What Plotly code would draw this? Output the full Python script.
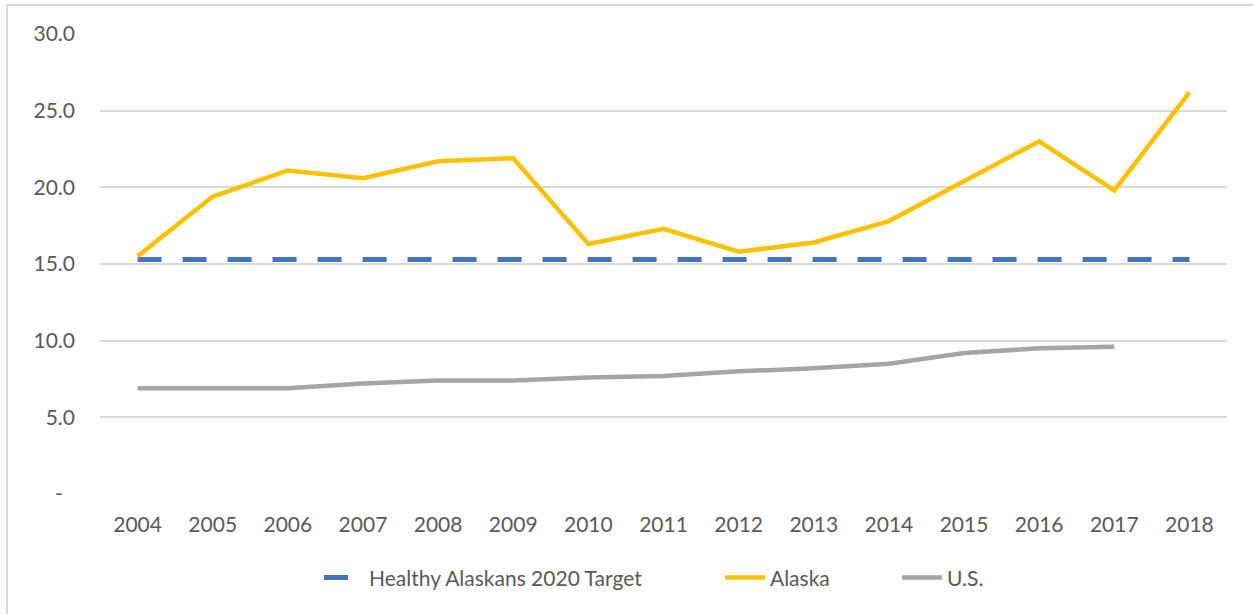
import plotly.graph_objects as go

years = [str(y) for y in range(2004, 2019)]
target = [15.3] * 15
alaska = [15.5, 19.4, 21.1, 20.6, 21.7, 21.9, 16.3, 17.3, 15.8, 16.4, 17.8, 20.4, 23.0, 19.8, 26.2]
us_years = [str(y) for y in range(2004, 2018)]
us = [6.9, 6.9, 6.9, 7.2, 7.4, 7.4, 7.6, 7.7, 8.0, 8.2, 8.5, 9.2, 9.5, 9.6]

y_tickvals = [0, 5, 10, 15, 20, 25, 30]
y_ticktext = ["-\u2007", "5.0", "10.0", "15.0", "20.0", "25.0", "30.0"]

FONT = "Lato"
TXT = "#595959"
GRID = "#D9D9D9"
FS = 21

fig = go.Figure()
fig.add_trace(go.Scatter(
    x=years, y=target, mode="lines", name="Healthy Alaskans 2020 Target",
    line=dict(color="#4472C4", width=5, dash="24px,21px"), legend="legend",
))
fig.add_trace(go.Scatter(
    x=years, y=alaska, mode="lines", name="Alaska",
    line=dict(color="#FFC000", width=4.5), legend="legend2",
))
fig.add_trace(go.Scatter(
    x=us_years, y=us, mode="lines", name="U.S.",
    line=dict(color="#A5A5A5", width=4.5), legend="legend3",
))


def leg(x):
    return dict(
        orientation="h", xref="container", yref="container",
        x=x, xanchor="left", y=0.059, yanchor="middle",
        font=dict(family=FONT, size=FS, color=TXT),
        itemwidth=40, bgcolor="rgba(0,0,0,0)",
    )


fig.update_layout(
    width=1253, height=614,
    margin=dict(l=100, r=26, t=34, b=120),
    paper_bgcolor="white", plot_bgcolor="white",
    font=dict(family=FONT, size=FS, color=TXT),
    showlegend=True,
    legend=leg(0.2546),
    legend2=leg(0.5746),
    legend3=leg(0.7159),
    xaxis=dict(
        type="category", categoryorder="array", categoryarray=years,
        range=[-0.5, 14.5], showgrid=False, zeroline=False, showline=False,
        ticks="", tickfont=dict(family=FONT, size=FS, color=TXT),
        ticklabelstandoff=16, automargin=False,
    ),
    yaxis=dict(
        range=[0, 30], tickvals=y_tickvals, ticktext=y_ticktext,
        showgrid=True, gridcolor=GRID, gridwidth=1.5,
        zeroline=False, showline=False, ticks="",
        tickfont=dict(family=FONT, size=FS, color=TXT),
        ticklabelstandoff=24, automargin=False,
    ),
    shapes=[dict(
        type="rect", xref="paper", yref="paper",
        x0=-0.0825, x1=1.2, y0=-0.5, y1=1.063,
        line=dict(color=GRID, width=2), fillcolor="rgba(0,0,0,0)", layer="below",
    )],
)

fig.write_html(
    "out.html",
    config={"displayModeBar": False},
    post_script="document.body.style.margin='0';document.body.style.overflow='hidden';",
)
